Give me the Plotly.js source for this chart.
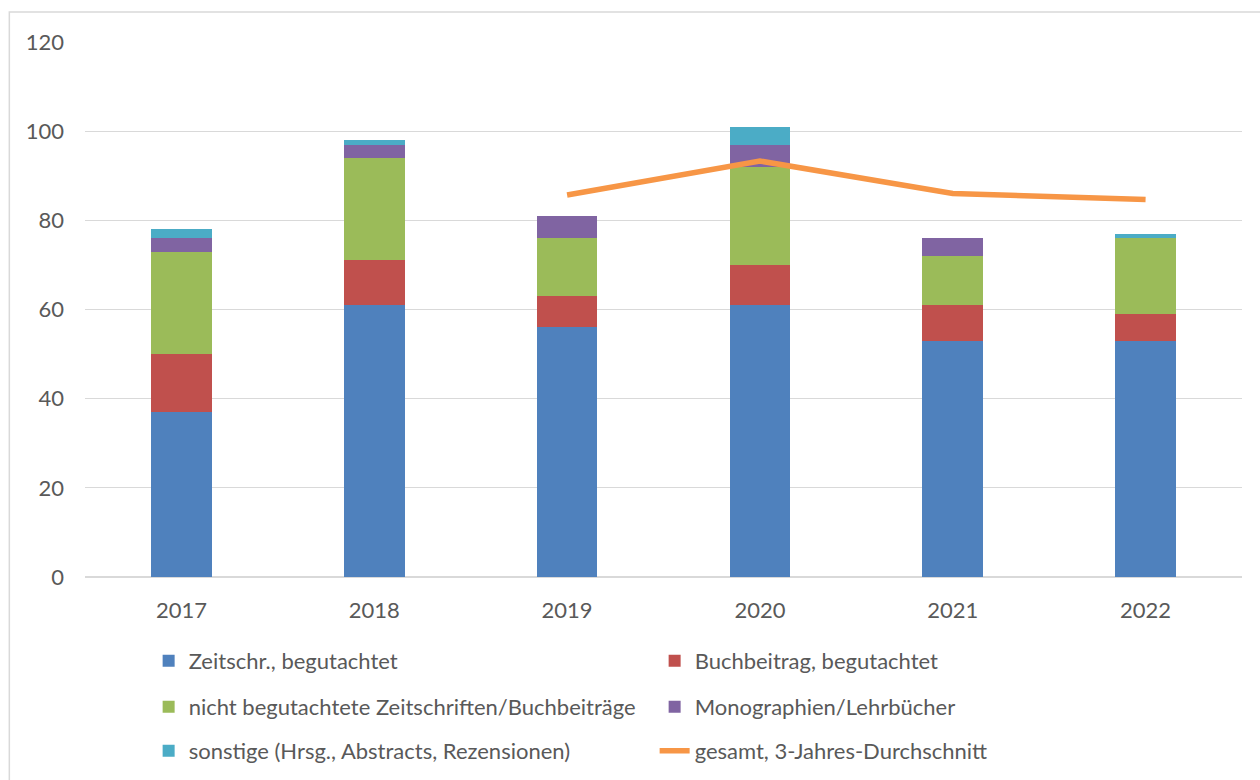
<!DOCTYPE html>
<html>
<head>
<meta charset="utf-8">
<script src="https://cdn.plot.ly/plotly-3.0.1.min.js"></script>
<style>html,body{margin:0;padding:0;background:#fff;}</style>
</head>
<body>
<div id="chart" style="width:1260px;height:780px;"></div>
<script>
const years = ['2017', '2018', '2019', '2020', '2021', '2022'];
const zeitschrBegutachtet = [37, 61, 56, 61, 53, 53];
const buchbeitragBegutachtet = [13, 10, 7, 9, 8, 6];
const nichtBegutachtet = [23, 23, 13, 22, 11, 17];
const monographien = [3, 3, 5, 5, 4, 0];
const sonstige = [2, 1, 0, 4, 0, 1];
const avgYears = ['2019', '2020', '2021', '2022'];
const gesamtDurchschnitt = [85.7, 93.3, 86.0, 84.7];

const FONT = 'Lato, "Open Sans", sans-serif';
const TXT = '#595959';
const FS = 22;

function barTrace(name, y, color, legend) {
  return {type: 'bar', name: name, x: years, y: y, legend: legend,
    marker: {color: color, line: {width: 0}}, hoverinfo: 'y+name'};
}

const traces = [
  barTrace('Zeitschr., begutachtet', zeitschrBegutachtet, '#4F81BD', 'legend'),
  barTrace('Buchbeitrag, begutachtet', buchbeitragBegutachtet, '#C0504D', 'legend'),
  barTrace('nicht begutachtete Zeitschriften/Buchbeiträge', nichtBegutachtet, '#9BBB59', 'legend2'),
  barTrace('Monographien/Lehrbücher', monographien, '#8064A2', 'legend2'),
  barTrace('sonstige (Hrsg., Abstracts, Rezensionen)', sonstige, '#4BACC6', 'legend3'),
  {type: 'scatter', mode: 'lines', name: 'gesamt, 3-Jahres-Durchschnitt', x: avgYears, y: gesamtDurchschnitt,
    legend: 'legend3', line: {color: '#F79646', width: 5.5}}
];

function leg(y) {
  return {orientation: 'h', x: 0.055, xanchor: 'left', y: y, yanchor: 'middle',
    entrywidth: 461, entrywidthmode: 'pixels', traceorder: 'normal',
    font: {family: FONT, size: FS, color: TXT}, bgcolor: 'rgba(0,0,0,0)'};
}

const layout = {
  width: 1260, height: 780,
  margin: {l: 85, r: 18, t: 42, b: 203, autoexpand: false},
  paper_bgcolor: '#fff', plot_bgcolor: '#fff',
  barmode: 'stack', bargap: 0.685,
  font: {family: FONT, size: FS, color: TXT},
  xaxis: {type: 'category', showgrid: false, showline: false, ticks: '', ticklabelstandoff: 18,
    tickfont: {family: FONT, size: FS, color: TXT}},
  yaxis: {range: [0, 120], dtick: 20, tick0: 0, showgrid: true, gridcolor: '#d9d9d9', gridwidth: 1.3,
    zeroline: true, zerolinecolor: '#d9d9d9', zerolinewidth: 1.3, showline: false, ticks: '',
    ticklabelstandoff: 20, tickfont: {family: FONT, size: FS, color: TXT}},
  showlegend: true,
  legend: leg(-0.157),
  legend2: leg(-0.243),
  legend3: leg(-0.325),
  shapes: [{type: 'rect', xref: 'paper', yref: 'paper', x0: -0.0654, x1: 1.03, y0: 1.0561, y1: -0.42,
    line: {color: '#d9d9d9', width: 1.5}, fillcolor: 'rgba(0,0,0,0)', layer: 'below'}]
};

Plotly.newPlot('chart', traces, layout, {displayModeBar: false, staticPlot: true});
</script>
</body>
</html>
